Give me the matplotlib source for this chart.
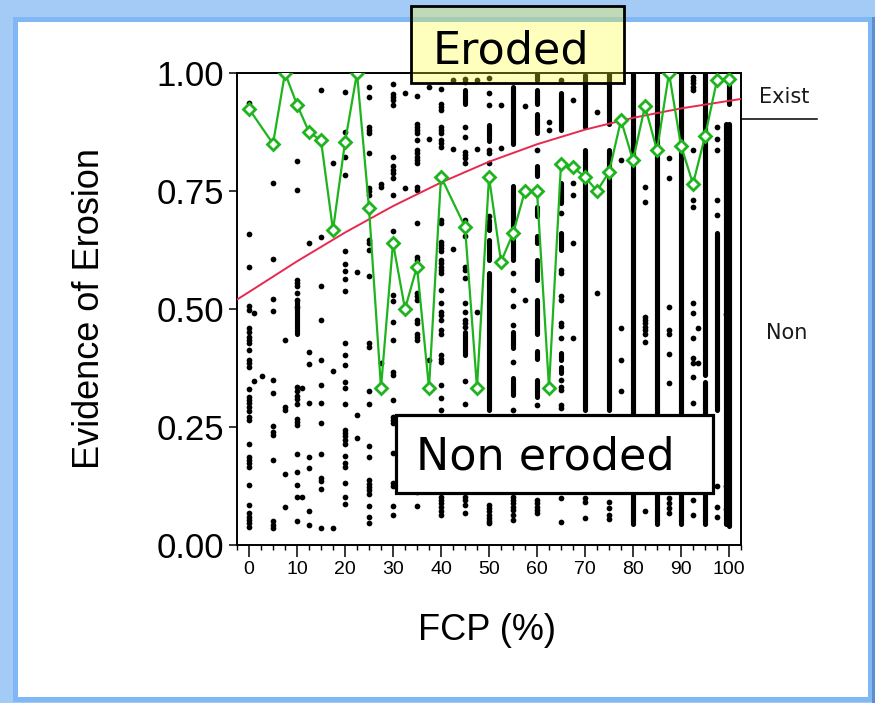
import matplotlib
matplotlib.use("Agg")
import matplotlib.pyplot as plt
from matplotlib.patches import Rectangle
from matplotlib.lines import Line2D
from matplotlib.ticker import MultipleLocator, FormatStrFormatter

W, H = 875, 703

# mean evidence of erosion per FCP class (green line)
fcp_means = [0, 5, 7.5, 10, 12.5, 15, 17.5, 20, 22.5, 25, 27.5, 30, 32.5, 35, 37.5,
             40, 45, 47.5, 50, 52.5, 55, 57.5, 60, 62.5, 65, 67.5, 70, 72.5, 75,
             77.5, 80, 82.5, 85, 87.5, 90, 92.5, 95, 97.5, 100]
evidence_means = [0.924, 0.85, 1.0, 0.933, 0.875, 0.857, 0.667, 0.853, 1.0, 0.714,
                  0.333, 0.64, 0.5, 0.59, 0.333, 0.78, 0.674, 0.333, 0.78, 0.6,
                  0.66, 0.75, 0.75, 0.333, 0.808, 0.80, 0.78, 0.75, 0.79, 0.9,
                  0.815, 0.93, 0.836, 1.0, 0.846, 0.765, 0.866, 0.985, 0.988]

# fitted probability curve (red)
fit_fcp = [-2.5, 0, 10, 20, 30, 40, 50, 60, 70, 80, 90, 100, 102.5]
fit_prob = [0.520, 0.536, 0.601, 0.662, 0.718, 0.768, 0.812, 0.849, 0.880, 0.905,
            0.925, 0.941, 0.945]

# individual observations: FCP -> evidence values
dots = {
    0: [0.936, 0.659, 0.589, 0.506, 0.498, 0.459, 0.452, 0.441, 0.434, 0.427, 0.413,
        0.392, 0.385, 0.378, 0.330, 0.314, 0.307, 0.300, 0.293, 0.283, 0.272, 0.265,
        0.214, 0.187, 0.180, 0.173, 0.166, 0.128, 0.085, 0.067, 0.060, 0.053, 0.046, 0.039],
    1: [0.491, 0.347],
    2.7: [0.357],
    5: [0.767, 0.606, 0.522, 0.496, 0.349, 0.323, 0.253, 0.240, 0.233, 0.180, 0.050,
        0.043, 0.036],
    7.5: [0.434, 0.292, 0.285, 0.150, 0.080],
    10: [0.813, 0.752, 0.562, 0.555, 0.548, 0.534, 0.52, 0.505, 0.334, 0.327, 0.316,
         0.309, 0.298, 0.268, 0.261, 0.254, 0.192, 0.155, 0.127, 0.102, 0.051],
    11: [0.333, 0.102],
    12.5: [0.639, 0.408, 0.383, 0.301, 0.187, 0.164, 0.071, 0.042],
    15: [0.963, 0.652, 0.549, 0.477, 0.392, 0.339, 0.300, 0.259, 0.193, 0.141, 0.136,
         0.118, 0.037],
    17.5: [0.809, 0.368, 0.035],
    20: [0.96, 0.874, 0.823, 0.784, 0.622, 0.595, 0.581, 0.564, 0.539, 0.429, 0.402,
         0.382, 0.346, 0.332, 0.298, 0.244, 0.237, 0.230, 0.222, 0.215, 0.188, 0.174,
         0.166, 0.132, 0.102, 0.086],
    22.5: [0.579, 0.275, 0.226],
    25: [0.97, 0.949, 0.886, 0.879, 0.872, 0.831, 0.756, 0.749, 0.742, 0.646, 0.639,
         0.625, 0.569, 0.427, 0.420, 0.327, 0.298, 0.210, 0.187, 0.137, 0.130, 0.123,
         0.116, 0.109, 0.083, 0.060, 0.046],
    27.5: [0.765, 0.758, 0.385],
    30: [0.977, 0.956, 0.949, 0.942, 0.932, 0.823, 0.802, 0.795, 0.788, 0.777, 0.742,
         0.666, 0.53, 0.516, 0.473, 0.434, 0.367, 0.360, 0.307, 0.272, 0.265, 0.258,
         0.194, 0.131, 0.124, 0.083, 0.064],
    32.5: [0.957, 0.756],
    35: [0.951, 0.893, 0.886, 0.879, 0.872, 0.858, 0.837, 0.830, 0.823, 0.816, 0.809,
         0.759, 0.752, 0.682, 0.611, 0.604, 0.594, 0.534, 0.527, 0.520, 0.477, 0.470,
         0.448, 0.441, 0.434, 0.134, 0.124, 0.113, 0.083],
    37.5: [0.97, 0.86, 0.392],
    40: [0.966, 0.935, 0.928, 0.921, 0.886, 0.879, 0.872, 0.858, 0.851, 0.844, 0.689,
         0.682, 0.643, 0.636, 0.629, 0.622, 0.604, 0.597, 0.590, 0.583, 0.576, 0.541,
         0.512, 0.494, 0.487, 0.477, 0.455, 0.448, 0.402, 0.395, 0.388, 0.339, 0.311,
         0.286, 0.102, 0.095, 0.088, 0.081, 0.071, 0.064],
    42.5: [0.985, 0.838, 0.627],
    45: [0.988, 0.981, 0.886, 0.865, 0.833, 0.826, 0.819, 0.809, 0.689, 0.682, 0.654,
         0.59, 0.583, 0.565, 0.512, 0.494, 0.477, 0.470, 0.462, 0.347, 0.298, 0.102,
         0.095, 0.085, 0.067],
    47.5: [0.985, 0.838, 0.494],
    50: [0.99, 0.957, 0.933, 0.837, 0.830, 0.809, 0.696, 0.085, 0.078, 0.071, 0.064,
         0.057, 0.050, 0.046],
    52.5: [0.933, 0.842, 0.604],
    55: [0.576, 0.541, 0.506, 0.466, 0.388, 0.286, 0.102, 0.095, 0.088, 0.081, 0.074,
         0.064, 0.054],
    57.5: [0.93, 0.52],
    60: [0.837, 0.297, 0.095, 0.088, 0.081, 0.074, 0.067],
    62.5: [0.896, 0.879],
    65: [0.985, 0.703, 0.583, 0.576, 0.527, 0.519, 0.470, 0.463, 0.438, 0.349, 0.335,
         0.328, 0.297, 0.290, 0.099, 0.049],
    67.5: [0.943, 0.766, 0.742, 0.64, 0.439, 0.131],
    70: [0.099, 0.092, 0.057],
    72.5: [0.918, 0.534],
    75: [0.092, 0.078, 0.064, 0.056],
    77.5: [0.816, 0.459, 0.392, 0.327],
    82.5: [0.759, 0.727, 0.484, 0.477, 0.470, 0.462, 0.455, 0.448, 0.431, 0.071],
    87.5: [0.819, 0.777, 0.505, 0.455, 0.448, 0.404, 0.344, 0.099, 0.088, 0.078, 0.067],
    92.5: [0.992, 0.985, 0.978, 0.971, 0.964, 0.837, 0.759, 0.731, 0.717, 0.512, 0.491,
           0.438, 0.396, 0.385, 0.356, 0.300, 0.095, 0.064],
    93.5: [0.459, 0.385],
    97.5: [0.985, 0.886, 0.86, 0.837, 0.73, 0.70, 0.124, 0.081, 0.060],
    99.3: [0.489, 0.124, 0.077],
}

# runs of overlapping observations: FCP -> (low, high)
streaks = {
    10: [(0.448, 0.519)],
    45: [(0.935, 0.963), (0.402, 0.452)],
    50: [(0.855, 0.89), (0.668, 0.689), (0.604, 0.646), (0.286, 0.576)],
    55: [(0.85, 0.97), (0.65, 0.76), (0.604, 0.646), (0.417, 0.452), (0.318, 0.353)],
    60: [(0.985, 1.0), (0.935, 0.963), (0.872, 0.914), (0.781, 0.802), (0.696, 0.717),
         (0.64, 0.654), (0.562, 0.604), (0.448, 0.519), (0.395, 0.41), (0.314, 0.349)],
    65: [(0.879, 0.957), (0.724, 0.767), (0.625, 0.66), (0.392, 0.406), (0.364, 0.378)],
    70: [(0.886, 0.995), (0.286, 0.837)],
    75: [(0.893, 1.0), (0.286, 0.837)],
    80: [(0.045, 1.0)],
    85: [(0.045, 1.0)],
    90: [(0.045, 1.0)],
    95: [(0.045, 0.346), (0.36, 1.0)],
    97.5: [(0.286, 0.66)],
    99.3: [(0.045, 0.893)],
    100: [(0.04, 0.893), (0.935, 1.0)],
}


def px_box(x0, y0, x1, y1):
    return (x0 / W, 1 - y1 / H, (x1 - x0) / W, (y1 - y0) / H)


def fig_rect(x0, y0, x1, y1, **kw):
    b = px_box(x0, y0, x1, y1)
    fig.add_artist(Rectangle(b[:2], b[2], b[3], transform=fig.transFigure, **kw))


plt.rcParams['font.family'] = ['Liberation Sans', 'DejaVu Sans']

fig = plt.figure(figsize=(W / 100, H / 100), dpi=100, facecolor='#a4cbf6')

# window panel
fig_rect(13, 17, 872, 702, fc='#80b7f5', ec='none', zorder=-5)
fig_rect(872, 17, 875, 703, fc='#5b8fd2', ec='none', zorder=-5)
fig_rect(18, 22, 868, 697, fc='white', ec='none', zorder=-4)

ax = fig.add_axes(px_box(237, 73, 741, 545))
ax.set_facecolor('white')

dx, dy = [], []
for k, vals in dots.items():
    dx += [k] * len(vals)
    dy += vals
ax.scatter(dx, dy, s=17, color='black', linewidths=0, zorder=2)

sx, s_lo, s_hi = [], [], []
for k, runs in streaks.items():
    for lo, hi in runs:
        sx.append(k)
        s_lo.append(lo)
        s_hi.append(hi)
ax.vlines(sx, s_lo, s_hi, colors='black', lw=3.7, capstyle='round', zorder=2)

ax.plot(fit_fcp, fit_prob, color='#e8294f', lw=1.4, zorder=4)
ax.plot(fcp_means, evidence_means, color='#1db41d', lw=1.6, marker='D', ms=6.5,
        mfc='white', mec='#1db41d', mew=2.0, zorder=5)

ax.set_xlim(-2.5, 102.5)
ax.set_ylim(0, 1)
ax.xaxis.set_major_locator(MultipleLocator(10))
ax.xaxis.set_minor_locator(MultipleLocator(2.5))
ax.set_yticks([0, 0.25, 0.5, 0.75, 1.0])
ax.yaxis.set_major_formatter(FormatStrFormatter('%.2f'))
ax.tick_params(axis='y', direction='out', length=5.5, width=1.1, labelsize=25, pad=4)
ax.tick_params(axis='x', which='major', direction='out', length=8.5, width=1.1,
               labelsize=14, pad=3)
ax.tick_params(axis='x', which='minor', direction='out', length=3.8, width=1.0)
for sp in ax.spines.values():
    sp.set_linewidth(1.4)

fig.text(90 / W, 1 - 308 / H, 'Evidence of Erosion', rotation=90, ha='center',
         va='center', fontsize=26)
fig.text(487 / W, 1 - 631 / H, 'FCP (%)', ha='center', va='center', fontsize=26)

# right-hand annotations
fig.text(784 / W, 1 - 97 / H, 'Exist', ha='center', va='center', fontsize=15,
         family='DejaVu Sans', color='#1a1a1a')
fig.add_artist(Line2D([741 / W, 817 / W], [1 - 119 / H, 1 - 119 / H],
                      transform=fig.transFigure, color='black', lw=1.1))
fig.text(787 / W, 1 - 333 / H, 'Non', ha='center', va='center', fontsize=15,
         family='DejaVu Sans', color='#1a1a1a')

# label boxes
fig_rect(411, 6, 624, 83, fc=(1, 1, 0.15, 0.3), ec='black', lw=2, zorder=10)
fig.text(511 / W, 1 - 63 / H, 'Eroded', ha='center', va='baseline', fontsize=32,
         family='DejaVu Sans', zorder=11)

fig_rect(396, 415, 713, 493, fc='white', ec='black', lw=2.3, zorder=10)
fig.text(545 / W, 1 - 470 / H, 'Non eroded', ha='center', va='baseline', fontsize=32,
         family='DejaVu Sans', zorder=11)

fig.savefig('out.png', dpi=100, facecolor=fig.get_facecolor())
